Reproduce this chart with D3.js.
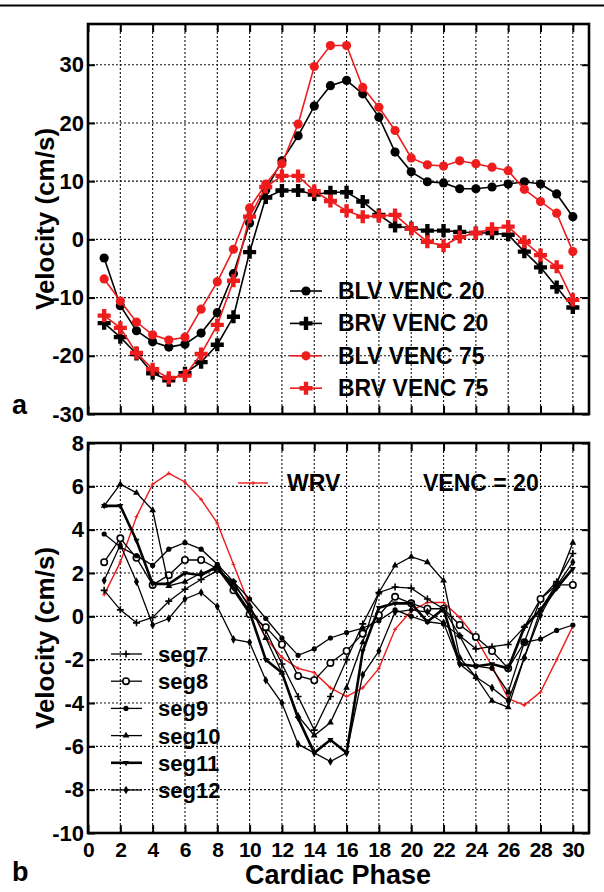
<!DOCTYPE html>
<html><head><meta charset="utf-8">
<script src="https://cdn.jsdelivr.net/npm/d3@7"></script>
<style>
html,body{margin:0;padding:0;background:#fff;}
svg{display:block;font-family:"Liberation Sans",Arial,sans-serif;font-weight:bold;}
</style></head>
<body>
<svg id="c" width="604" height="892"></svg>
<script>
// ---------- data ----------
const phases = d3.range(1, 31);
const xTickLabels = d3.range(0, 31, 2);
const yTicksA = [-30, -20, -10, 0, 10, 20, 30];
const yTicksB = [-10, -8, -6, -4, -2, 0, 2, 4, 6, 8];

// panel a
const blv20 = [-3.2,-11.4,-15.7,-17.6,-18.5,-18.0,-16.1,-12.6,-5.9,2.8,8.5,13.5,17.8,22.9,26.4,27.3,25.0,21.0,15.0,11.6,9.9,9.7,8.7,8.7,9.0,9.5,9.9,9.5,7.8,3.9];
const brv20 = [-14.4,-16.8,-19.7,-23.0,-24.2,-23.0,-21.1,-18.1,-13.3,-2.2,7.2,8.4,8.4,7.7,8.1,8.1,6.5,4.2,2.3,1.9,1.5,1.5,1.3,1.1,1.1,0.8,-2.1,-4.8,-8.2,-11.7];
const blv75 = [-6.8,-10.6,-14.2,-16.4,-17.3,-16.8,-12.0,-7.3,-1.7,5.4,9.5,13.0,19.8,29.7,33.3,33.3,26.1,22.7,18.7,14.0,12.8,12.6,13.5,13.0,12.4,11.8,8.6,6.5,4.5,-2.1];
const brv75 = [-13.1,-15.2,-19.5,-22.3,-23.8,-23.4,-19.7,-14.7,-7.1,3.9,9.0,10.9,10.9,8.3,6.6,4.9,3.9,4.0,4.2,1.8,-0.4,-1.1,0.4,1.1,1.8,2.2,-0.4,-2.7,-4.7,-10.4];
const seriesANames = ["BLV VENC 20","BRV VENC 20","BLV VENC 75","BRV VENC 75"];

// panel b
const seg7  = [1.2,0.3,-0.3,-0.05,0.7,1.25,1.7,2.1,1.6,0.4,-0.65,-2.2,-3.7,-5.25,-3.7,-2.0,-0.35,1.1,1.35,1.3,0.8,0.35,-0.9,-1.5,-1.4,-1.3,-0.5,0.8,1.6,2.9];
const seg8  = [2.5,3.6,2.7,1.45,1.9,2.6,2.6,2.2,1.2,0.1,-0.5,-1.3,-2.75,-2.95,-2.15,-1.6,-0.8,0.05,0.9,0.6,0.35,0.35,-0.4,-0.95,-1.6,-2.4,-1.2,0.8,1.45,1.45];
const seg9  = [3.8,3.2,2.8,2.35,3.1,3.4,3.1,2.4,1.6,0.8,-0.1,-1.0,-1.8,-1.5,-1.0,-0.75,-0.55,-0.2,0.3,0.0,-0.25,-0.35,-0.9,-2.3,-2.4,-3.5,-1.2,-1.05,-0.65,-0.4];
const seg10 = [5.1,6.1,5.7,4.9,1.4,1.6,2.0,2.2,1.5,0.5,-1.0,-2.6,-4.6,-5.5,-4.9,-3.3,-1.2,1.1,2.35,2.75,2.5,1.65,-1.9,-2.8,-3.9,-4.2,-1.9,0.3,1.5,3.4];
const seg11 = [5.1,5.1,3.5,1.5,1.5,2.0,1.9,2.3,1.3,0.2,-2.0,-2.6,-4.7,-6.3,-5.7,-6.3,-1.6,0.4,0.6,0.6,-0.25,0.35,-2.2,-2.3,-2.2,-2.4,-0.5,0.3,1.3,2.2];
const seg12 = [1.65,3.3,1.6,-0.4,-0.1,0.8,1.1,0.45,-1.06,-1.2,-2.95,-4.0,-5.9,-6.3,-6.7,-6.3,-2.7,-1.6,0.2,0.3,0.2,-0.3,-2.2,-2.8,-3.3,-3.9,-1.9,0.05,1.4,2.5];
const wrv   = [1.0,2.5,4.6,6.1,6.6,6.2,5.4,4.3,2.4,0.5,-1.0,-1.9,-2.4,-2.6,-3.3,-3.7,-3.3,-2.4,-0.6,0.25,0.64,0.64,-0.05,-1.0,-2.3,-3.8,-4.1,-3.5,-2.0,-0.45];
const segNames = ["seg7","seg8","seg9","seg10","seg11","seg12"];

// ---------- drawing ----------
const RED = "#ee1c1c";
const svg = d3.select("#c");
const L = 88, R = 589;
const x = d3.scaleLinear().domain([0, 31]).range([L, R]);
const ya = d3.scaleLinear().domain([-30, 37]).range([414, 24]);
const yb = d3.scaleLinear().domain([-10, 8]).range([833, 443]);
const fmt = d => String(d);

svg.append("line").attr("x1",0).attr("x2",604).attr("y1",5.5).attr("y2",5.5)
  .attr("stroke","#000").attr("stroke-width",2);

function frame(y, yTicks, showX) {
  const [b, t] = y.range();
  const g = svg.append("g");
  // grid
  g.selectAll(".gv").data(xTickLabels.filter(d => d > 0)).join("line")
    .attr("x1", d => x(d)).attr("x2", d => x(d)).attr("y1", t).attr("y2", b)
    .attr("stroke","#111").attr("stroke-width",1.1).attr("stroke-dasharray","2,2");
  g.selectAll(".gh").data(yTicks.filter(d => y(d) > t + 1 && y(d) < b - 1)).join("line")
    .attr("x1", L).attr("x2", R).attr("y1", d => y(d)).attr("y2", d => y(d))
    .attr("stroke","#111").attr("stroke-width",1.1).attr("stroke-dasharray","2,2");
  // axes
  const la = g.append("g").attr("transform",`translate(${L},0)`)
    .call(d3.axisLeft(y).tickValues(yTicks).tickSize(-7).tickPadding(4).tickFormat(fmt));
  const ra = g.append("g").attr("transform",`translate(${R},0)`)
    .call(d3.axisRight(y).tickValues(yTicks).tickSize(-7).tickFormat(""));
  const ta = g.append("g").attr("transform",`translate(0,${t})`)
    .call(d3.axisTop(x).tickValues(xTickLabels).tickSize(-8).tickFormat(""));
  const ba = g.append("g").attr("transform",`translate(0,${b})`)
    .call(d3.axisBottom(x).tickValues(xTickLabels).tickSize(-8).tickPadding(9)
      .tickFormat(showX ? fmt : ""));
  [la, ra, ta, ba].forEach(a => {
    a.select(".domain").remove();
    a.selectAll(".tick line").attr("stroke","#000").attr("stroke-width",2);
    a.selectAll("text").attr("fill","#000").style("font-size","22px")
      .style("font-family","'Liberation Sans',Arial,sans-serif").style("font-weight","bold");
  });
  ba.selectAll("text").style("font-size","21px").style("letter-spacing","-0.5px");
  g.append("rect").attr("x",L).attr("y",t).attr("width",R-L).attr("height",b-t)
    .attr("fill","none").attr("stroke","#000").attr("stroke-width",2.6);
  return g;
}

frame(ya, yTicksA, false);
frame(yb, yTicksB, true);

// ---- panel a series ----
const lineA = d3.line().x((d,i) => x(phases[i])).y(d => ya(d));
const crossBig = d3.symbol().type(d3.symbolCross).size(95);
const specA = [
  {v: blv20, c: "#000", m: "circle"},
  {v: brv20, c: "#000", m: "cross"},
  {v: blv75, c: RED, m: "circle"},
  {v: brv75, c: RED, m: "cross"}
];
function markA(sel, m, c) {
  if (m === "circle") sel.append("circle").attr("r",4.6).attr("fill",c);
  else sel.append("path").attr("d",crossBig()).attr("fill",c);
}
specA.forEach(s => {
  const g = svg.append("g");
  g.append("path").attr("d", lineA(s.v)).attr("fill","none").attr("stroke",s.c).attr("stroke-width",1.6);
  g.selectAll("g").data(s.v).join("g")
    .attr("transform",(d,i) => `translate(${x(phases[i])},${ya(d)})`)
    .each(function(){ markA(d3.select(this), s.m, s.c); });
});
// legend a
specA.forEach((s,k) => {
  const yy = 291 + k*32.4;
  const g = svg.append("g");
  g.append("line").attr("x1",290).attr("x2",322).attr("y1",yy).attr("y2",yy).attr("stroke",s.c).attr("stroke-width",1.6);
  const mg = g.append("g").attr("transform",`translate(306,${yy})`);
  markA(mg, s.m, s.c);
  g.append("text").attr("x",338).attr("y",yy+8).style("font-size","23px").text(seriesANames[k]);
});

// ---- panel b series ----
const lineB = d3.line().x((d,i) => x(phases[i])).y(d => yb(d));
function markB(sel, m, c) {
  if (m === "plus") {
    sel.append("path").attr("d","M-3.5,0H3.5M0,-3.5V3.5").attr("stroke",c).attr("stroke-width",1.6);
  } else if (m === "ocircle") {
    sel.append("circle").attr("r",3.2).attr("fill","#fff").attr("stroke",c).attr("stroke-width",1.6);
  } else if (m === "dot") {
    sel.append("circle").attr("r",2.6).attr("fill",c);
  } else if (m === "tri") {
    sel.append("path").attr("d",d3.symbol().type(d3.symbolTriangle).size(20)()).attr("fill",c);
  } else if (m === "tridown") {
    sel.append("path").attr("d",d3.symbol().type(d3.symbolTriangle).size(16)()).attr("fill",c).attr("transform","rotate(180)");
  } else if (m === "diamond") {
    sel.append("path").attr("d",d3.symbol().type(d3.symbolDiamond).size(22)()).attr("fill",c);
  } else if (m === "tiny") {
    sel.append("path").attr("d","M-2,0H2M0,-2V2").attr("stroke",c).attr("stroke-width",1);
  }
}
const specB = [
  {v: seg7,  m: "plus",    w: 1.3},
  {v: seg8,  m: "ocircle", w: 1.3},
  {v: seg9,  m: "dot",     w: 1.3},
  {v: seg10, m: "tri",     w: 1.3},
  {v: seg11, m: "tridown", w: 2.6},
  {v: seg12, m: "diamond", w: 1.3}
];
// red WRV first
(function(){
  const g = svg.append("g");
  g.append("path").attr("d", lineB(wrv)).attr("fill","none").attr("stroke",RED).attr("stroke-width",1.4);
  g.selectAll("g").data(wrv).join("g")
    .attr("transform",(d,i) => `translate(${x(phases[i])},${yb(d)})`)
    .each(function(){ markB(d3.select(this), "tiny", RED); });
})();
specB.forEach(s => {
  const g = svg.append("g");
  g.append("path").attr("d", lineB(s.v)).attr("fill","none").attr("stroke","#000").attr("stroke-width",s.w);
  g.selectAll("g").data(s.v).join("g")
    .attr("transform",(d,i) => `translate(${x(phases[i])},${yb(d)})`)
    .each(function(){ markB(d3.select(this), s.m, "#000"); });
});
// legend b
specB.forEach((s,k) => {
  const yy = 654 + k*27.2;
  const g = svg.append("g");
  g.append("line").attr("x1",111).attr("x2",142).attr("y1",yy).attr("y2",yy).attr("stroke","#000").attr("stroke-width",s.w);
  markB(g.append("g").attr("transform",`translate(126,${yy})`), s.m, "#000");
  g.append("text").attr("x",158).attr("y",yy+8).style("font-size","22px").text(segNames[k]);
});
// WRV legend
svg.append("line").attr("x1",238).attr("x2",268).attr("y1",483).attr("y2",483).attr("stroke",RED).attr("stroke-width",1.4);
markB(svg.append("g").attr("transform","translate(253,483)"), "tiny", RED);
svg.append("text").attr("x",287).attr("y",491).style("font-size","23px").text("WRV");
svg.append("text").attr("x",423).attr("y",491).style("font-size","23px").text("VENC = 20");

// axis titles & panel labels
svg.append("text").attr("transform","translate(54,219) rotate(-90)").attr("text-anchor","middle")
  .style("font-size","26px").text("Velocity (cm/s)");
svg.append("text").attr("transform","translate(54,638) rotate(-90)").attr("text-anchor","middle")
  .style("font-size","26px").text("Velocity (cm/s)");
svg.append("text").attr("x",338).attr("y",884).attr("text-anchor","middle")
  .style("font-size","27px").text("Cardiac Phase");
svg.append("text").attr("x",12).attr("y",414).style("font-size","27px").text("a");
svg.append("text").attr("x",12).attr("y",881).style("font-size","27px").text("b");
</script>
</body></html>
